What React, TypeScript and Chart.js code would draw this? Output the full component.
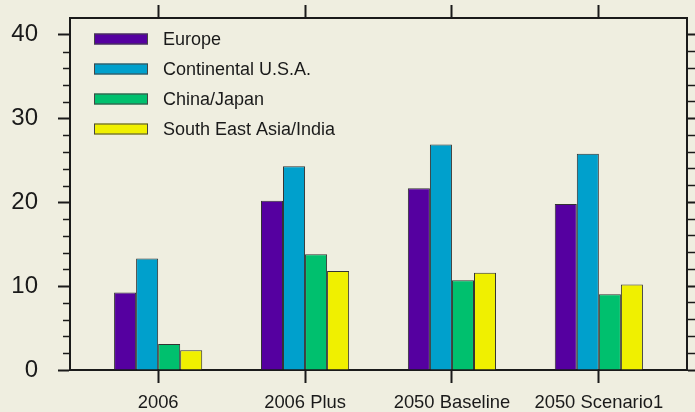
import React, { useEffect, useRef } from "react";
import { Chart, registerables } from "chart.js";

Chart.register(...registerables);

const categories = ["2006", "2006 Plus", "2050 Baseline", "2050 Scenario1"];
const seriesNames = ["Europe", "Continental U.S.A.", "China/Japan", "South East Asia/India"];
const europe = [9.25, 20.2, 21.7, 19.8];
const usa = [13.3, 24.3, 26.9, 25.8];
const chinaJapan = [3.1, 13.8, 10.7, 9.05];
const seAsiaIndia = [2.35, 11.8, 11.6, 10.2];
const seriesColors = ["#5500a0", "#00a0cc", "#00c06e", "#f0f000"];
const yMajorTicks = [0, 10, 20, 30, 40];
const yMinorTicks = [2, 4, 6, 8, 12, 14, 16, 18, 22, 24, 26, 28, 32, 34, 36, 38];
const yRightTicks = [0, 2, 4, 6, 8, 10, 12, 14, 16, 18, 20, 22, 24, 26, 28, 30, 32, 34, 36, 38, 40];

const FONT = "'Liberation Sans', Arial, Helvetica, sans-serif";
const BG = "#efeee0";
const INK = "#1a1a1a";

export default function App() {
  const ref = useRef<HTMLCanvasElement>(null);

  useEffect(() => {
    const canvas = ref.current;
    if (!canvas) return;
    const seriesValues = [europe, usa, chinaJapan, seAsiaIndia];
    const datasets = seriesValues.map((vals, i) => ({
      label: seriesNames[i],
      data: vals.map((v, j) => ({ x: j, y: v })),
      backgroundColor: seriesColors[i],
      borderColor: "#333333",
      borderWidth: 1,
      categoryPercentage: 0.6,
      barPercentage: 1.0,
      xAxisID: "x",
      yAxisID: "y",
    }));

    const decor = {
      id: "decor",
      beforeDraw(chart: any) {
        const { ctx, width, height } = chart;
        ctx.save();
        ctx.fillStyle = BG;
        ctx.fillRect(0, 0, width, height);
        ctx.restore();
      },
      afterDraw(chart: any) {
        const { ctx, chartArea } = chart;
        const y = chart.scales.y;
        ctx.save();
        ctx.strokeStyle = INK;
        ctx.lineWidth = 1.5;
        yMinorTicks.forEach((v) => {
          const py = Math.round(y.getPixelForValue(v)) + 0.5;
          ctx.beginPath();
          ctx.moveTo(chartArea.left - 7, py);
          ctx.lineTo(chartArea.left, py);
          ctx.stroke();
        });
        ctx.font = `18px ${FONT}`;
        ctx.textBaseline = "middle";
        ctx.textAlign = "left";
        chart.data.datasets.forEach((ds: any, i: number) => {
          const cy = chartArea.top + 21 + i * 30;
          const sx = chartArea.left + 24;
          ctx.fillStyle = ds.backgroundColor;
          ctx.fillRect(sx, cy - 5.5, 54, 11);
          ctx.strokeStyle = "#444444";
          ctx.lineWidth = 1;
          ctx.strokeRect(sx + 0.5, cy - 5.5 + 0.5, 53, 10);
          ctx.fillStyle = INK;
          ctx.fillText(ds.label, chartArea.left + 93, cy + 1);
        });
        ctx.restore();
      },
    };

    const chart = new Chart(canvas, {
      type: "bar",
      data: { datasets: datasets as any },
      options: {
        animation: false,
        responsive: false,
        devicePixelRatio: 1,
        layout: { padding: 0 },
        plugins: { legend: { display: false }, tooltip: { enabled: false } },
        scales: {
          x: {
            type: "linear",
            position: "bottom",
            min: -0.6,
            max: 3.6,
            offset: false,
            afterBuildTicks: (s: any) => {
              s.ticks = categories.map((_, i) => ({ value: i }));
            },
            afterFit: (s: any) => {
              s.height = 42;
            },
            grid: { offset: false, drawOnChartArea: false, drawTicks: true, tickLength: 13, tickColor: INK, tickWidth: 2 },
            border: { display: true, color: INK, width: 2 },
            ticks: {
              callback: (v: any) => categories[v as number],
              color: INK,
              font: { family: FONT, size: 18.4 },
              padding: 9,
              maxRotation: 0,
              autoSkip: false,
            },
          },
          xTop: {
            type: "linear",
            position: "top",
            min: -0.6,
            max: 3.6,
            offset: false,
            afterBuildTicks: (s: any) => {
              s.ticks = categories.map((_, i) => ({ value: i }));
            },
            afterFit: (s: any) => {
              s.height = 18;
            },
            grid: { offset: false, drawOnChartArea: false, drawTicks: true, tickLength: 13, tickColor: INK, tickWidth: 2 },
            border: { display: true, color: INK, width: 2 },
            ticks: { display: false },
          },
          y: {
            type: "linear",
            position: "left",
            min: 0,
            max: 42,
            afterBuildTicks: (s: any) => {
              s.ticks = yMajorTicks.map((v) => ({ value: v }));
            },
            afterFit: (s: any) => {
              s.width = 70;
              s.paddingTop = 0;
              s.paddingBottom = 0;
            },
            grid: { drawOnChartArea: false, drawTicks: true, tickLength: 12, tickColor: INK, tickWidth: 2 },
            border: { display: true, color: INK, width: 2 },
            ticks: {
              color: INK,
              font: { family: FONT, size: 24 },
              padding: 20,
            },
          },
          yRight: {
            type: "linear",
            position: "right",
            min: 0,
            max: 42,
            afterBuildTicks: (s: any) => {
              s.ticks = yRightTicks.map((v) => ({ value: v }));
            },
            afterFit: (s: any) => {
              s.width = 8;
              s.paddingTop = 0;
              s.paddingBottom = 0;
            },
            grid: {
              drawOnChartArea: false,
              drawTicks: true,
              tickLength: 8,
              tickColor: INK,
              tickWidth: (c: any) => (c.tick && c.tick.value % 10 === 0 ? 2 : 1.5),
            },
            border: { display: true, color: INK, width: 2 },
            ticks: { display: false },
          },
        },
      },
      plugins: [decor],
    });

    return () => chart.destroy();
  }, []);

  return (
    <div style={{ position: "fixed", left: 0, top: 0, width: 695, height: 412 }}>
      <canvas ref={ref} width={695} height={412} style={{ width: 695, height: 412, display: "block" }} />
    </div>
  );
}
